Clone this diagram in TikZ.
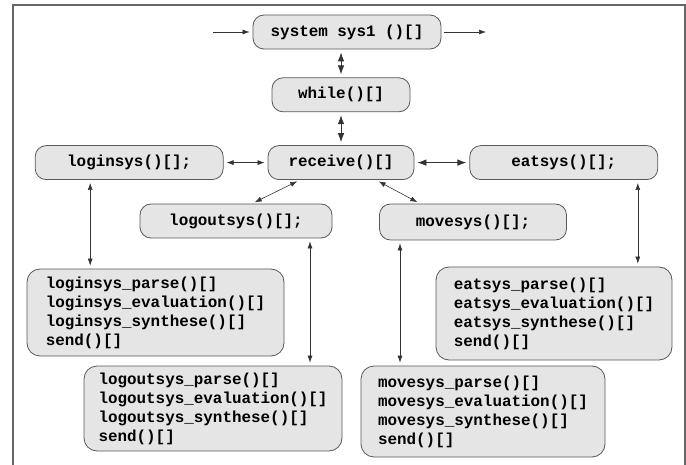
\documentclass[tikz,border=0pt]{standalone}
\usepackage{fontspec}
\setmonofont{Liberation Mono}
\usetikzlibrary{positioning,arrows.meta}

\tikzset{
  fn/.style={draw=black!65, fill=black!10, rounded corners=11pt, line width=0.8pt,
    font=\fontsize{15.9}{19}\selectfont\ttfamily\bfseries, minimum height=34pt, inner sep=2pt},
  blk/.style={fn, align=left, rounded corners=13pt},
  link/.style={draw=black!80, line width=0.6pt, shorten <=3pt, shorten >=3pt,
    >={Latex[length=7pt,width=5pt]}},
  biglink/.style={link, line width=0.8pt, >={Latex[length=9pt,width=6.5pt]}},
}

\begin{document}
\begin{tikzpicture}[x=1pt,y=1pt]
\useasboundingbox (0,0) rectangle (686,-465);
\draw[black!60, line width=1.2pt] (13,-465) -- (13,-5) -- (685,-5) -- (685,-465);

% main chain
\node[fn, minimum width=188pt] (sys) at (347,-32) {system sys1 ()[]};
\node[fn, minimum width=138pt, below=28pt of sys, xshift=-6pt] (while) {while()[]};
\node[fn, minimum width=146pt, below=33pt of while] (recv) {receive()[]};

% the four services
\node[fn, minimum width=188pt, left=44pt of recv] (login) {loginsys()[];};
\node[fn, minimum width=188pt, right=55pt of recv] (eat) {eatsys()[];};
\node[fn, minimum width=192pt] (logout) at (236,-221) {logoutsys()[];};
\node[fn, minimum width=187pt, minimum height=36pt] (move) at (473,-222) {movesys()[];};

% their bodies
\node[blk, minimum width=257pt, minimum height=87pt] (loginblk) at (155.5,-312.5)
  {loginsys\_parse()[]\\loginsys\_evaluation()[]\\loginsys\_synthese()[]\\send()[]};
\node[blk, minimum width=258pt, minimum height=85pt] (logoutblk) at (213,-408.5)
  {logoutsys\_parse()[]\\logoutsys\_evaluation()[]\\logoutsys\_synthese()[]\\send()[]};
\node[blk, minimum width=236pt, minimum height=93pt] (eatblk) at (554,-313.5)
  {eatsys\_parse()[]\\eatsys\_evaluation()[]\\eatsys\_synthese()[]\\send()[]};
\node[blk, minimum width=244pt, minimum height=91pt] (moveblk) at (483,-411.5)
  {movesys\_parse()[]\\movesys\_evaluation()[]\\movesys\_synthese()[]\\send()[]};

\coordinate (in) at (213,-32);
\coordinate (out) at (486,-32);
\coordinate (lg) at ([xshift=-39pt]login.south);
\coordinate (lo) at ([xshift=74pt]logout.south);
\coordinate (mv) at ([xshift=-73pt]move.south);
\coordinate (et) at ([xshift=74pt]eat.south);

\draw[link, ->, shorten <=0pt] (in) -- (sys);
\draw[link, ->, shorten >=0pt] (sys) -- (out);
\draw[biglink, <->] (sys.south -| while.north) -- (while.north);
\draw[biglink, <->] (while) -- (recv);
\draw[link, <->] (login) -- (recv);
\draw[biglink, <->] (recv) -- (eat);
\draw[link, <->] ([xshift=-41pt]recv.south) -- ([xshift=16pt]logout.north);
\draw[link, <->] ([xshift=35pt]recv.south) -- ([xshift=-53pt]move.north);
\draw[link, <->] (lg) -- (lg |- loginblk.north);
\draw[link, <->] (lo) -- (lo |- logoutblk.north);
\draw[link, <->] (mv) -- (mv |- moveblk.north);
\draw[link, <->] (et) -- (et |- eatblk.north);
\end{tikzpicture}
\end{document}
